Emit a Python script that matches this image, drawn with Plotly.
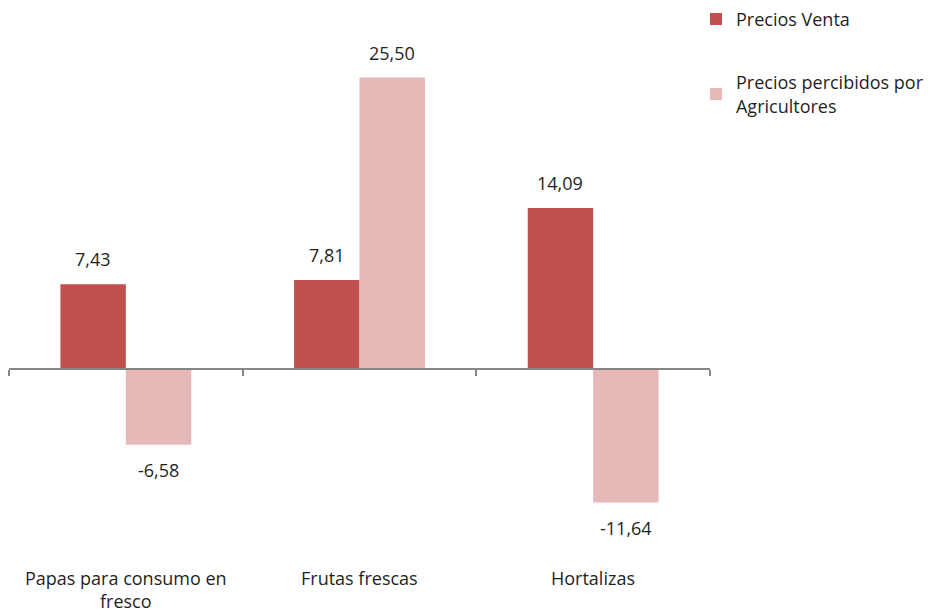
import plotly.graph_objects as go

categories = ["Papas para consumo en<br>fresco", "Frutas frescas", "Hortalizas"]
series_names = ["Precios Venta", "Precios percibidos por<br>Agricultores"]
precios_venta = [7.43, 7.81, 14.09]
precios_agricultores = [-6.58, 25.50, -11.64]
colors = ["#C0504D", "#E6B9B8"]

FONT = "Open Sans"
FS = 18
TEXT_COLOR = "#1F1F1F"
bargap = 0.44
bar_w = (1 - bargap) / 2

fig = go.Figure()
idx = list(range(len(categories)))
for k, (name, vals) in enumerate(zip(series_names, [precios_venta, precios_agricultores])):
    fig.add_trace(go.Bar(
        x=idx, y=vals, name=name, marker_color=colors[k], marker_line_width=0,
        legendgroup=f"g{k}", xaxis="x", yaxis="y",
    ))

def fmt(v):
    return f"{v:.2f}".replace(".", ",")

annotations = []
for k, vals in enumerate([precios_venta, precios_agricultores]):
    off = (k - 0.5) * bar_w
    for i, v in enumerate(vals):
        annotations.append(dict(
            x=i + off, y=v, xref="x", yref="y", text=fmt(v), showarrow=False,
            yshift=25 if v >= 0 else -25, font=dict(family=FONT, size=FS, color=TEXT_COLOR),
        ))
for i, c in enumerate(categories):
    annotations.append(dict(
        x=i, y=-0.045, xref="x", yref="paper", text=c, showarrow=False,
        yanchor="top", font=dict(family=FONT, size=FS, color=TEXT_COLOR),
    ))

ymin, ymax = -15, 30
fig.update_layout(
    width=937, height=614,
    margin=dict(l=1, r=235, t=18, b=81, autoexpand=False),
    paper_bgcolor="white", plot_bgcolor="white",
    barmode="group", bargap=bargap, bargroupgap=0,
    font=dict(family=FONT, size=FS, color=TEXT_COLOR),
    xaxis=dict(
        type="linear", range=[-0.5, 2.5], showgrid=False, zeroline=False,
        showline=True, linecolor="#868686", linewidth=1.5,
        ticks="outside", tickvals=[-0.5, 0.5, 1.5, 2.5], ticklen=6,
        tickcolor="#868686", tickwidth=1.5, showticklabels=False,
        anchor="free", position=(0 - ymin) / (ymax - ymin),
    ),
    yaxis=dict(range=[ymin, ymax], visible=False, showgrid=False, zeroline=False),
    legend=dict(
        x=0.98, y=1.049, xanchor="left", yanchor="top",
        bgcolor="rgba(0,0,0,0)",
        font=dict(family=FONT, size=FS, color=TEXT_COLOR),
        traceorder="grouped", tracegroupgap=37, itemwidth=30,
    ),
    annotations=annotations,
    showlegend=True,
)

fig.write_html("out.html")
